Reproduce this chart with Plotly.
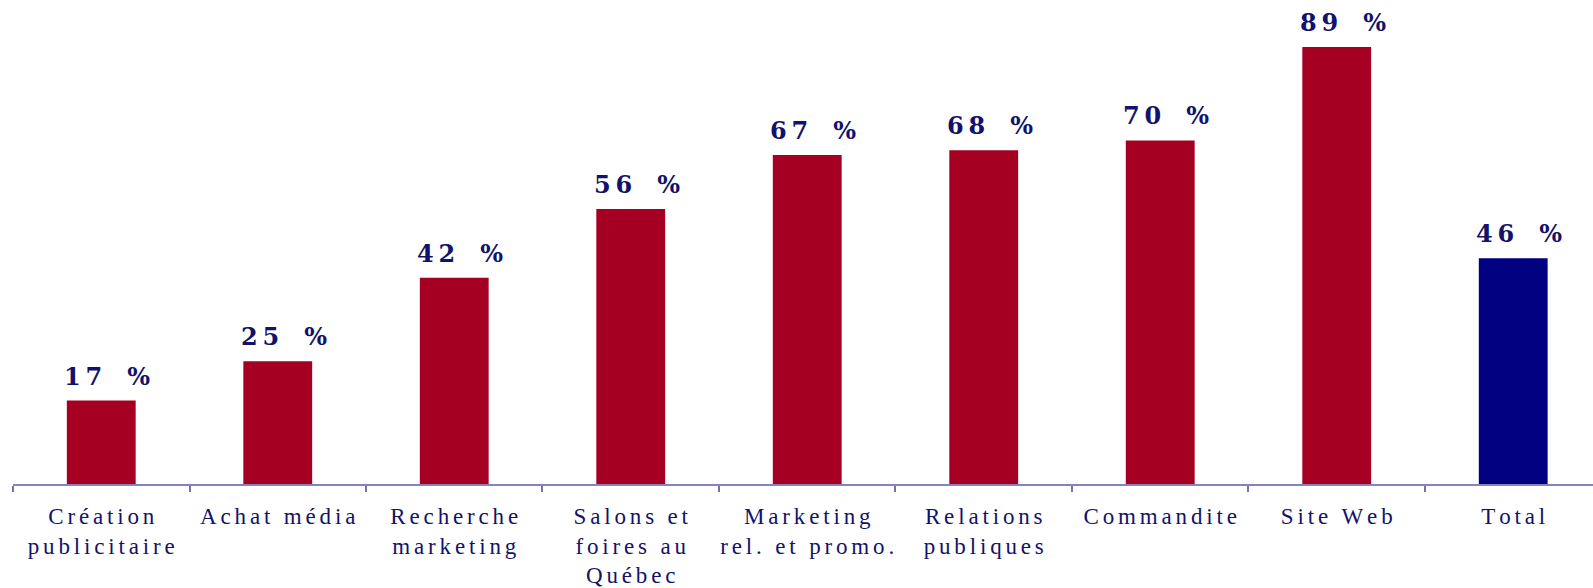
import plotly.graph_objects as go

categories = [
    "Création<br>publicitaire",
    "Achat média",
    "Recherche<br>marketing",
    "Salons et<br>foires au<br>Québec",
    "Marketing<br>rel. et promo.",
    "Relations<br>publiques",
    "Commandite",
    "Site Web",
    "Total",
]
values = [17, 25, 42, 56, 67, 68, 70, 89, 46]
bar_colors = ["#A50021"] * 8 + ["#000080"]

NAVY = "#12126b"
GAP = "\u200a\u200a"


def spaced(text):
    # widen letter spacing line by line
    return "<br>".join(GAP.join(line) for line in text.split("<br>"))


tick_text = [spaced(c) for c in categories]

fig = go.Figure(
    go.Bar(
        x=tick_text,
        y=values,
        marker=dict(color=bar_colors, line=dict(width=0)),
        width=0.39,
        hoverinfo="skip",
    )
)

for x, v in zip(tick_text, values):
    fig.add_annotation(
        x=x, y=v, xref="x", yref="y",
        text="\u2009".join(str(v)) + "\u00a0\u00a0\u00a0%",
        showarrow=False, yanchor="bottom", yshift=8, xshift=6,
        font=dict(family="DejaVu Serif", size=24, color=NAVY, weight="bold"),
    )

fig.update_layout(
    width=1593, height=588,
    margin=dict(l=13, r=0, t=0, b=104),
    paper_bgcolor="white", plot_bgcolor="white",
    showlegend=False,
    xaxis=dict(
        type="category",
        range=[-0.5, 8.452],
        automargin=False,
        tickson="boundaries", ticks="outside", ticklen=6, tickwidth=1.5,
        tickcolor="#7373aa",
        showline=True, linecolor="#8585b8", linewidth=2,
        showgrid=False, zeroline=False,
        tickangle=0, ticklabelstandoff=10,
        tickfont=dict(family="Liberation Serif", size=23, color=NAVY),
    ),
    yaxis=dict(range=[0, 98.6], visible=False, showgrid=False, zeroline=False,
               automargin=False),
)

fig.write_html("out.html")
